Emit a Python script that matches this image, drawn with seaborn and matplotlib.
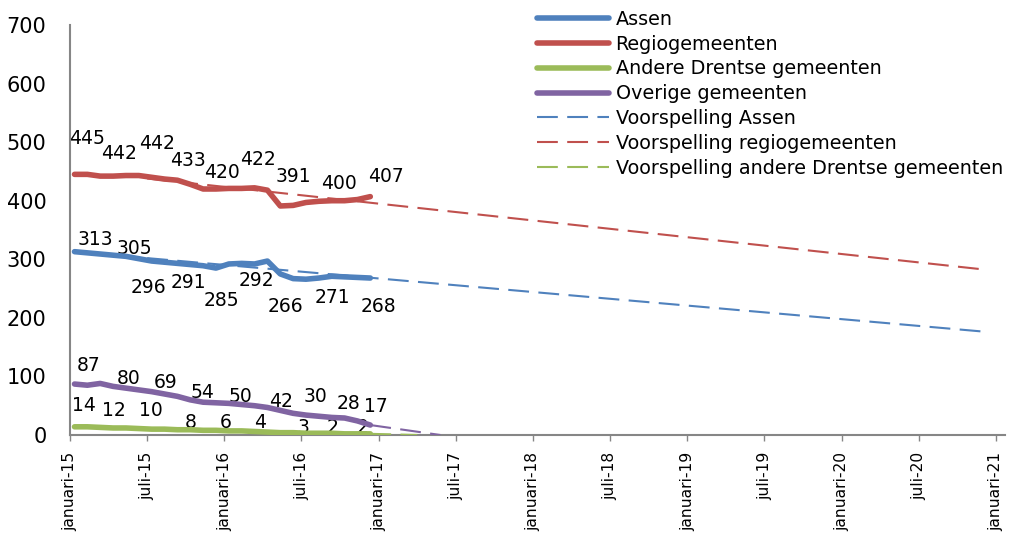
import numpy as np
import pandas as pd
import matplotlib
matplotlib.use("Agg")
import matplotlib.pyplot as plt
import seaborn as sns

# ---------------- data ----------------
# monthly observations, januari-15 .. december-16
assen = [313, 311, 309, 307, 305, 301, 297, 295, 293, 291, 289, 285,
         292, 293, 292, 297, 275, 267, 266, 268, 271, 270, 269, 268]
regio = [445, 445, 442, 442, 443, 443, 440, 437, 435, 428, 420, 420,
         421, 421, 422, 418, 391, 392, 397, 399, 400, 400, 402, 407]
andere = [14, 14, 13, 12, 12, 11, 10, 10, 9, 9, 8, 8,
          7, 7, 6, 5, 4, 4, 3, 3, 3, 2, 2, 2]
overige = [87, 85, 88, 83, 80, 77, 74, 70, 66, 60, 56, 55,
           54, 52, 50, 47, 42, 37, 34, 32, 30, 29, 24, 17]

# forecast lines (start month, end month) and (start value, end value)
fc_assen_x, fc_assen_y = [6, 71.3], [302, 176]
fc_regio_x, fc_regio_y = [6, 71.3], [438, 282]
fc_andere_x, fc_andere_y = [23.35, 27.0], [2, 0]
fc_overige_x, fc_overige_y = [23.35, 28.8], [17, 0]

tick_labels = ["januari-15", "juli-15", "januari-16", "juli-16", "januari-17",
               "juli-17", "januari-18", "juli-18", "januari-19", "juli-19",
               "januari-20", "juli-20", "januari-21"]

# data labels (text) and where they sit (month, value-level)
lab_regio = ["445", "442", "442", "433", "420", "422", "391", "400", "407"]
lab_regio_x = [1.33, 3.82, 6.78, 9.20, 11.85, 14.65, 17.38, 20.89, 24.55]
lab_regio_y = [507, 480, 497, 468, 449, 470, 442, 429, 442]
lab_assen = ["313", "305", "296", "291", "285", "292", "266", "271", "268"]
lab_assen_x = [1.95, 4.99, 6.08, 9.20, 11.77, 14.50, 16.76, 20.42, 24.01]
lab_assen_y = [333, 319, 251, 261, 230, 263, 219, 234, 219]
lab_overige = ["87", "80", "69", "54", "50", "42", "30", "28", "17"]
lab_overige_x = [1.48, 4.52, 7.40, 10.29, 13.25, 16.37, 19.10, 21.67, 23.77]
lab_overige_y = [118, 96, 89, 73, 65, 58, 65, 53, 48]
lab_andere = ["14", "12", "10", "8", "6", "4", "3", "2", "2"]
lab_andere_x = [1.09, 3.43, 6.31, 9.35, 12.08, 14.81, 18.16, 20.42, 22.76]
lab_andere_y = [50, 41, 41, 22, 22, 22, 12, 12, 12]

# ---------------- styling ----------------
sns.set_style("white")
plt.rcParams["font.family"] = ["DejaVu Sans"]
plt.rcParams["text.color"] = "black"
plt.rcParams["xtick.color"] = "black"
plt.rcParams["ytick.color"] = "black"

C_BLUE = "#4F81BD"
C_RED = "#C0504D"
C_GREEN = "#9BBB59"
C_PURPLE = "#8064A2"
GREY = "#868686"

fig = plt.figure(figsize=(10.09, 5.33), dpi=100)
ax = fig.add_axes([70 / 1009, 1 - 435 / 533, 935 / 1009, 410 / 533])

months = np.arange(len(assen)) + 0.35
df = pd.DataFrame({"maand": months, "Assen": assen, "Regiogemeenten": regio,
                   "Andere Drentse gemeenten": andere, "Overige gemeenten": overige})

solid_lw = 4.0
dash_lw = 1.5
dash = (10, 4.5)

sns.lineplot(data=df, x="maand", y="Assen", ax=ax, color=C_BLUE, lw=solid_lw,
             label="Assen", zorder=4, solid_capstyle="round")
sns.lineplot(data=df, x="maand", y="Regiogemeenten", ax=ax, color=C_RED, lw=solid_lw,
             label="Regiogemeenten", zorder=4, solid_capstyle="round")
sns.lineplot(data=df, x="maand", y="Andere Drentse gemeenten", ax=ax, color=C_GREEN,
             lw=solid_lw, label="Andere Drentse gemeenten", zorder=4, solid_capstyle="round")
sns.lineplot(data=df, x="maand", y="Overige gemeenten", ax=ax, color=C_PURPLE,
             lw=solid_lw, label="Overige gemeenten", zorder=4, solid_capstyle="round")

sns.lineplot(x=fc_assen_x, y=fc_assen_y, ax=ax, color=C_BLUE, lw=dash_lw,
             label="Voorspelling Assen", zorder=5)
sns.lineplot(x=fc_regio_x, y=fc_regio_y, ax=ax, color=C_RED, lw=dash_lw,
             label="Voorspelling regiogemeenten", zorder=5)
sns.lineplot(x=fc_andere_x, y=fc_andere_y, ax=ax, color=C_GREEN, lw=dash_lw,
             label="Voorspelling andere Drentse gemeenten", zorder=5)
sns.lineplot(x=fc_overige_x, y=fc_overige_y, ax=ax, color=C_PURPLE, lw=dash_lw,
             label="_nolegend_", zorder=5)

for ln in ax.get_lines()[4:]:
    ln.set_linestyle((0, dash))

for texts, xs, ys in [(lab_regio, lab_regio_x, lab_regio_y),
                      (lab_assen, lab_assen_x, lab_assen_y),
                      (lab_overige, lab_overige_x, lab_overige_y),
                      (lab_andere, lab_andere_x, lab_andere_y)]:
    for t, x, y in zip(texts, xs, ys):
        ax.text(x, y, t, ha="center", va="center", fontsize=13.5, color="black", zorder=2)

ax.set_xlim(0, 72.7)
ax.set_ylim(0, 700)
ax.set_xticks(np.arange(0, 73, 6))
ax.set_xticklabels(tick_labels, rotation=90, fontsize=11.2)
ax.set_yticks(np.arange(0, 701, 100))
ax.tick_params(axis="y", labelsize=15, length=0, pad=17, labelcolor="black")
ax.tick_params(axis="x", direction="out", length=4.5, width=1, color=GREY, pad=7.5,
               bottom=True, labelcolor="black")
ax.set_xlabel("")
ax.set_ylabel("")
for s in ["top", "right"]:
    ax.spines[s].set_visible(False)
for s in ["left", "bottom"]:
    ax.spines[s].set_color(GREY)
    ax.spines[s].set_linewidth(1.5)

handles, labels = ax.get_legend_handles_labels()
leg = ax.legend(handles, labels, loc="upper left",
                bbox_to_anchor=(537 / 1009, 1 - 10 / 533), bbox_transform=fig.transFigure,
                frameon=False, fontsize=13.8, handlelength=3.75, handletextpad=0.35,
                labelspacing=0.3, borderpad=0, borderaxespad=0)
for txt in leg.get_texts():
    txt.set_color("black")
for h in leg.get_lines():
    if h.get_linestyle() in ("-", "solid"):
        h.set_linewidth(solid_lw)
        h.set_solid_capstyle("round")

fig.savefig("out.png", dpi=100)
